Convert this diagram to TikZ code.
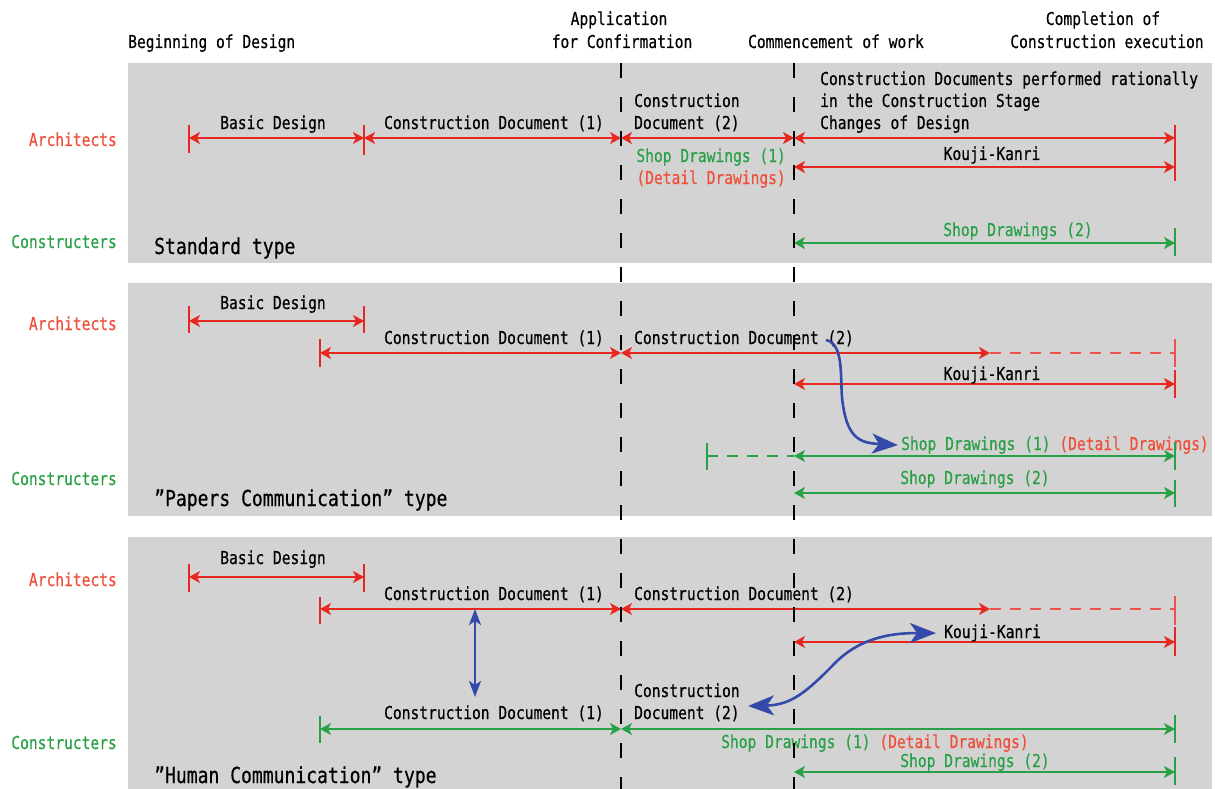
\documentclass[tikz,border=0pt]{standalone}
\usepackage{fontspec}
\setmainfont{DejaVu Sans Mono}[FakeStretch=0.82,FakeBold=0.4]
\usetikzlibrary{arrows.meta,positioning}

\definecolor{archred}{RGB}{232,40,32}
\definecolor{archtext}{RGB}{240,78,58}
\definecolor{consgreen}{RGB}{40,160,70}
\definecolor{panelgray}{RGB}{211,211,211}
\definecolor{linkblue}{RGB}{52,74,170}

\tikzset{
  txt/.style={font=\fontsize{17.8}{21}\selectfont, inner sep=0pt, anchor=base},
  bigtxt/.style={font=\fontsize{22}{26}\selectfont, inner sep=0pt, anchor=base west},
  twoheads/.style={line width=1.4pt, {Stealth[length=11pt,width=12pt,inset=3pt]}-{Stealth[length=11pt,width=12pt,inset=3pt]}},
  archspan/.style={twoheads, draw=archred},
  consspan/.style={twoheads, draw=consgreen},
  archtick/.style={draw=archred, line width=1.2pt},
  constick/.style={draw=consgreen, line width=1.2pt},
  archdash/.style={draw=archred!80, line width=1.3pt, dash pattern=on 11pt off 9pt},
  consdash/.style={draw=consgreen, line width=1.3pt, dash pattern=on 11pt off 9pt},
  milestone/.style={draw=black, line width=2.2pt, dash pattern=on 15pt off 19pt},
  linkarrow/.style={draw=linkblue, line width=2.6pt},
}

\begin{document}
\begin{tikzpicture}[x=1pt,y=-1pt]
\useasboundingbox (0,0) rectangle (1215,789);

% three panels
\fill[panelgray] (128,63) rectangle (1212,263);
\fill[panelgray] (128,283) rectangle (1212,516);
\fill[panelgray] (128,537) rectangle (1212,789);

% milestones
\node[txt, anchor=base west] at (128,48) (begin) {Beginning of Design};
\node[txt] at (619,25) (appa) {Application};
\node[txt] at (622,48) (appb) {for Confirmation};
\node[txt] at (836,48) (comm) {Commencement of work};
\node[txt] at (1103,25) (compa) {Completion of};
\node[txt] at (1107,48) (compb) {Construction execution};

% ---------- Standard type ----------
\node[txt, anchor=base east, text=archtext] at (117,146) (sarch) {Architects};
\node[txt, anchor=base east, text=consgreen] at (117,248) (scons) {Constructers};
\node[bigtxt] at (154,254) (stype) {Standard type};

\draw[archtick] (189,125) -- (189,153);
\draw[archtick] (364,125) -- (364,155);
\draw[archtick] (1175,125) -- (1175,181);
\draw[archspan] (189,138) -- (364,138);
\draw[archspan] (364,138) -- (621,138);
\draw[archspan] (621,138) -- (794,138);
\draw[archspan] (794,138) -- (1175,138);
\draw[archspan] (794,167) -- (1175,167);
\node[txt] at (273,129) (sbasic) {Basic Design};
\node[txt] at (494,129) (scdone) {Construction Document (1)};
\node[txt, anchor=base west] at (634,107) (scdtwoa) {Construction};
\node[txt, anchor=base west] at (634,129) (scdtwob) {Document (2)};
\node[txt, anchor=base west] at (820,85) (sratia) {Construction Documents performed rationally};
\node[txt, anchor=base west] at (820,107) (sratib) {in the Construction Stage};
\node[txt, anchor=base west] at (820,129) (sratic) {Changes of Design};
\node[txt] at (992,160) (skouji) {Kouji-Kanri};
\node[txt, anchor=base east, text=consgreen] at (786,162) (sshopone) {Shop Drawings (1)};
\node[txt, anchor=base east, text=archtext] at (786,184) (sdetail) {(Detail Drawings)};

\draw[constick] (1175,228) -- (1175,256);
\draw[consspan] (794,243) -- (1175,243);
\node[txt, text=consgreen] at (1018,236) (sshoptwo) {Shop Drawings (2)};

% ---------- "Papers Communication" type ----------
\node[txt, anchor=base east, text=archtext] at (117,330) (parch) {Architects};
\node[txt, anchor=base east, text=consgreen] at (117,485) (pcons) {Constructers};
\node[bigtxt] at (154,506) (ptype) {”Papers Communication” type};

\draw[archtick] (189,306) -- (189,333);
\draw[archtick] (364,306) -- (364,333);
\draw[archspan] (189,321) -- (364,321);
\node[txt] at (273,309) (pbasic) {Basic Design};
\draw[archtick] (320,339) -- (320,367);
\draw[archspan] (320,353) -- (621,353);
\draw[archspan] (621,353) -- (990,353);
\draw[archdash] (990,353) -- (1175,353);
\draw[archtick, draw=archred!80] (1175,339) -- (1175,367);
\node[txt] at (494,344) (pcdone) {Construction Document (1)};
\node[txt, anchor=base west] at (634,344) (pcdtwo) {Construction Document (2)};
\draw[archtick] (1175,370) -- (1175,398);
\draw[archspan] (794,384) -- (1175,384);
\node[txt] at (992,380) (pkouji) {Kouji-Kanri};

\node[txt, anchor=base west] at (901,450) (pshopone)
  {\textcolor{consgreen}{Shop Drawings (1)} \textcolor{archtext}{(Detail Drawings)}};
\draw[constick] (707,443) -- (707,470);
\draw[consdash] (707,456) -- (794,456);
\draw[constick] (1175,442) -- (1175,470);
\draw[consspan] (794,456) -- (1175,456);
\draw[constick] (1175,480) -- (1175,507);
\draw[consspan] (794,493) -- (1175,493);
\node[txt, text=consgreen] at (975,484) (pshoptwo) {Shop Drawings (2)};

\coordinate (pfrom) at (826,340);
\draw[linkarrow, -{Stealth[length=26pt,width=20pt,inset=7pt]}] (pfrom)
  .. controls (846,344) and (839,385) .. (843,405)
  .. controls (848,440) and (862,443) .. ([xshift=-3pt]pshopone.west);

% ---------- "Human Communication" type ----------
\node[txt, anchor=base east, text=archtext] at (117,586) (harch) {Architects};
\node[txt, anchor=base east, text=consgreen] at (117,749) (hcons) {Constructers};
\node[bigtxt] at (154,783) (htype) {”Human Communication” type};

\draw[archtick] (189,564) -- (189,592);
\draw[archtick] (364,564) -- (364,592);
\draw[archspan] (189,577) -- (364,577);
\node[txt] at (273,564) (hbasic) {Basic Design};
\draw[archtick] (320,597) -- (320,624);
\draw[archspan] (320,609) -- (621,609);
\draw[archspan] (621,609) -- (990,609);
\draw[archdash] (990,609) -- (1175,609);
\draw[archtick, draw=archred!80] (1175,596) -- (1175,625);
\node[txt] at (494,600) (hcdone) {Construction Document (1)};
\node[txt, anchor=base west] at (634,600) (hcdtwo) {Construction Document (2)};
\draw[archtick] (1175,627) -- (1175,656);
\draw[archspan] (794,642) -- (1175,642);
\node[txt, anchor=base west] at (944,638) (hkouji) {Kouji-Kanri};

\node[txt, anchor=base west] at (634,697) (hcdtwoa) {Construction};
\node[txt, anchor=base west] at (634,719) (hcdtwob) {Document (2)};
\node[txt] at (494,719) (hcdonec) {Construction Document (1)};
\draw[constick] (320,716) -- (320,743);
\draw[consspan] (320,729) -- (621,729);
\draw[constick] (1175,715) -- (1175,743);
\draw[consspan] (621,729) -- (1175,729);
\node[txt, anchor=base west] at (721,748) (hshopone)
  {\textcolor{consgreen}{Shop Drawings (1)} \textcolor{archtext}{(Detail Drawings)}};
\draw[constick] (1175,757) -- (1175,785);
\draw[consspan] (794,772) -- (1175,772);
\node[txt, text=consgreen] at (975,767) (hshoptwo) {Shop Drawings (2)};

\coordinate (hup) at (475,609);
\coordinate (hdown) at (475,697);
\draw[linkarrow, line width=2.4pt, {Stealth[length=16pt,width=12pt,inset=4pt]}-{Stealth[length=16pt,width=12pt,inset=4pt]}] (hup) -- (hdown);
\coordinate (hleft) at (748,706);
\draw[linkarrow, {Stealth[length=26pt,width=20pt,inset=7pt]}-{Stealth[length=26pt,width=20pt,inset=7pt]}] (hleft)
  .. controls (790,705) and (805,694) .. (835,663)
  .. controls (862,636) and (895,633) .. ([xshift=-8pt]hkouji.west);

% dashed milestone lines on top
\draw[milestone] (621,63) -- (621,789);
\draw[milestone] (794,63) -- (794,789);
\end{tikzpicture}
\end{document}
